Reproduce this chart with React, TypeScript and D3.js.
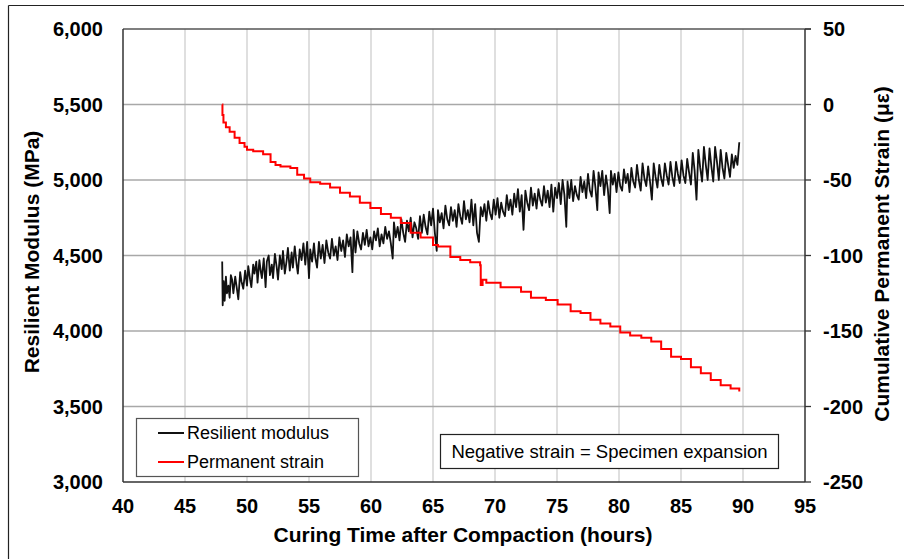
import React from "react";
import * as d3 from "d3";

const xTicks = [40, 45, 50, 55, 60, 65, 70, 75, 80, 85, 90, 95];
const leftTicks = [3000, 3500, 4000, 4500, 5000, 5500, 6000];
const rightTicks = [-250, -200, -150, -100, -50, 0, 50];

// Resilient modulus (MPa) vs curing time (hours)
const modulus: [number, number][] = [
  [48.0, 4460], [48.04, 4170], [48.12, 4330], [48.2, 4200], [48.3, 4360], [48.38, 4250],
  [48.5, 4300], [48.6, 4220], [48.7, 4370], [48.8, 4340], [48.9, 4250], [49.05, 4360],
  [49.15, 4300], [49.3, 4210], [49.45, 4390], [49.55, 4330], [49.7, 4280], [49.85, 4400],
  [50.0, 4300], [50.1, 4430], [50.25, 4340], [50.35, 4290], [50.5, 4440], [50.6, 4380],
  [50.75, 4460], [50.85, 4320], [51.0, 4470], [51.1, 4400], [51.2, 4350], [51.35, 4480],
  [51.5, 4290], [51.6, 4460], [51.75, 4500], [51.85, 4370], [52.0, 4440], [52.1, 4350],
  [52.25, 4510], [52.4, 4420], [52.5, 4340], [52.65, 4500], [52.8, 4410], [52.9, 4530],
  [53.05, 4380], [53.2, 4470], [53.3, 4550], [53.45, 4400], [53.6, 4520], [53.7, 4420],
  [53.85, 4560], [54.0, 4440], [54.1, 4380], [54.25, 4540], [54.4, 4470], [54.55, 4580],
  [54.7, 4440], [54.85, 4590], [55.0, 4350], [55.1, 4540], [55.25, 4460], [55.4, 4580],
  [55.5, 4490], [55.65, 4420], [55.8, 4590], [55.95, 4480], [56.1, 4570], [56.25, 4450],
  [56.4, 4600], [56.55, 4520], [56.7, 4480], [56.85, 4610], [57.0, 4500], [57.15, 4560],
  [57.3, 4470], [57.45, 4620], [57.6, 4530], [57.75, 4600], [57.9, 4490], [58.05, 4640],
  [58.2, 4560], [58.35, 4620], [58.5, 4390], [58.6, 4670], [58.75, 4520], [58.9, 4660],
  [59.05, 4580], [59.2, 4540], [59.35, 4650], [59.5, 4570], [59.65, 4670], [59.8, 4560],
  [59.95, 4620], [60.1, 4540], [60.25, 4660], [60.4, 4600], [60.55, 4680], [60.7, 4560],
  [60.85, 4640], [61.0, 4580], [61.15, 4690], [61.3, 4610], [61.45, 4660], [61.6, 4580],
  [61.75, 4480], [61.85, 4720], [62.0, 4620], [62.15, 4690], [62.3, 4600], [62.45, 4740],
  [62.6, 4650], [62.75, 4590], [62.9, 4730], [63.05, 4660], [63.2, 4750], [63.35, 4620],
  [63.5, 4720], [63.65, 4680], [63.8, 4610], [63.95, 4760], [64.1, 4650], [64.25, 4770],
  [64.4, 4690], [64.55, 4640], [64.7, 4790], [64.85, 4700], [65.0, 4810], [65.15, 4650],
  [65.3, 4530], [65.4, 4800], [65.55, 4720], [65.7, 4780], [65.85, 4680], [66.0, 4830],
  [66.15, 4740], [66.3, 4700], [66.45, 4820], [66.6, 4730], [66.75, 4800], [66.9, 4690],
  [67.05, 4840], [67.2, 4760], [67.35, 4710], [67.5, 4860], [67.65, 4740], [67.8, 4800],
  [67.95, 4720], [68.1, 4870], [68.25, 4700], [68.4, 4840], [68.55, 4650], [68.7, 4590],
  [68.85, 4820], [69.0, 4760], [69.15, 4840], [69.3, 4730], [69.45, 4860], [69.6, 4780],
  [69.75, 4740], [69.9, 4870], [70.05, 4770], [70.2, 4880], [70.35, 4750], [70.5, 4850],
  [70.65, 4790], [70.8, 4760], [70.95, 4900], [71.1, 4800], [71.25, 4870], [71.4, 4770],
  [71.55, 4910], [71.7, 4820], [71.85, 4940], [72.0, 4790], [72.15, 4900], [72.3, 4670],
  [72.45, 4930], [72.6, 4850], [72.75, 4800], [72.9, 4950], [73.05, 4830], [73.2, 4910],
  [73.35, 4810], [73.5, 4940], [73.65, 4870], [73.8, 4830], [73.95, 4960], [74.1, 4850],
  [74.25, 4930], [74.4, 4820], [74.55, 4970], [74.7, 4790], [74.85, 4950], [75.0, 4880],
  [75.15, 4980], [75.3, 4840], [75.45, 5000], [75.6, 4900], [75.75, 4690], [75.85, 4990],
  [76.0, 4880], [76.15, 5000], [76.3, 4860], [76.45, 4960], [76.6, 4900], [76.75, 4870],
  [76.9, 5020], [77.05, 4920], [77.2, 4990], [77.35, 4880], [77.5, 5040], [77.65, 4930],
  [77.8, 4890], [77.95, 5060], [78.1, 4950], [78.25, 4800], [78.35, 5050], [78.5, 4960],
  [78.65, 5060], [78.8, 4900], [78.95, 5030], [79.1, 4940], [79.25, 4780], [79.35, 5060],
  [79.5, 4970], [79.65, 5040], [79.8, 4920], [79.95, 5050], [80.1, 4960], [80.25, 4930],
  [80.4, 5070], [80.55, 4980], [80.7, 5040], [80.85, 4920], [81.0, 5080], [81.15, 4990],
  [81.3, 4950], [81.45, 5100], [81.6, 5000], [81.75, 4930], [81.9, 5110], [82.05, 5010],
  [82.2, 4960], [82.35, 5090], [82.5, 4990], [82.65, 4870], [82.8, 5110], [82.95, 5020],
  [83.1, 4950], [83.25, 5100], [83.4, 5010], [83.55, 4960], [83.7, 5110], [83.85, 5030],
  [84.0, 4970], [84.15, 5120], [84.3, 5020], [84.45, 4960], [84.6, 5120], [84.75, 5040],
  [84.9, 4980], [85.05, 5130], [85.2, 5030], [85.35, 4980], [85.5, 5140], [85.65, 5050],
  [85.8, 4970], [85.95, 5180], [86.1, 5060], [86.25, 4870], [86.4, 5200], [86.55, 5080],
  [86.7, 4990], [86.85, 5220], [87.0, 5100], [87.15, 5000], [87.3, 5210], [87.45, 5090],
  [87.6, 4990], [87.75, 5220], [87.9, 5120], [88.05, 5000], [88.2, 5200], [88.35, 5080],
  [88.5, 5010], [88.65, 5180], [88.8, 5100], [88.95, 5020], [89.1, 5170], [89.25, 5080],
  [89.4, 5160], [89.55, 5100], [89.7, 5250],
];

// Cumulative permanent strain (microstrain) vs curing time (hours)
const strain: [number, number][] = [
  [48.0, 0], [48.02, -7], [48.1, -12], [48.3, -15], [48.6, -18], [49.0, -22], [49.4, -25.5],
  [49.8, -28], [50.0, -30], [50.5, -31], [51.1, -31], [51.3, -33], [51.9, -38], [52.3, -40],
  [52.7, -41], [53.5, -42], [54.05, -46.5], [54.6, -49], [55.1, -51.5], [55.9, -52.5],
  [56.7, -55], [57.5, -58.5], [58.3, -61], [59.1, -65], [59.95, -68.5], [60.8, -72.5],
  [61.6, -75], [62.4, -78.5], [63.2, -85], [64.0, -88], [65.0, -93], [65.4, -94],
  [66.4, -101], [67.2, -103], [68.0, -104.5], [68.8, -106.5], [68.85, -119.5], [69.0, -116],
  [69.3, -118], [70.45, -121], [71.5, -121], [72.1, -124], [72.9, -128], [74.1, -129.5],
  [75.05, -132.5], [76.1, -137], [76.9, -138], [77.7, -142.5], [78.5, -145], [79.3, -147],
  [80.1, -151], [80.9, -153], [81.8, -154.5], [82.6, -157], [83.4, -162], [84.2, -167],
  [85.0, -168.5], [85.8, -174], [86.6, -178], [87.4, -182.5], [88.2, -186], [89.0, -188],
  [89.7, -190],
];

const FONT = "'Liberation Sans', Arial, sans-serif";

export default function App() {
  const L = 123, R = 805, T = 29, B = 482;
  const x = d3.scaleLinear().domain([40, 95]).range([L, R]);
  const yL = d3.scaleLinear().domain([3000, 6000]).range([B, T]);
  const yR = d3.scaleLinear().domain([-250, 50]).range([B, T]);

  const modLine = d3.line<[number, number]>().x(d => x(d[0])).y(d => yL(d[1]))(modulus) || "";
  const strLine = d3
    .line<[number, number]>()
    .x(d => x(d[0]))
    .y(d => yR(d[1]))
    .curve(d3.curveStepAfter)(strain) || "";

  return (
    <svg
      width={904}
      height={559}
      style={{ position: "absolute", left: 0, top: 0, background: "#fff" }}
      fontFamily={FONT}
    >
      <rect x={0} y={0} width={904} height={559} fill="#fff" />
      {/* outer border */}
      <line x1={8.5} y1={5.5} x2={8.5} y2={559} stroke="#222" strokeWidth={1.2} />
      <line x1={8.5} y1={5.5} x2={904} y2={5.5} stroke="#222" strokeWidth={1.2} />

      {/* vertical gridlines */}
      {xTicks.slice(1, -1).map(t => (
        <line key={"vx" + t} x1={x(t)} x2={x(t)} y1={T} y2={B} stroke="#d4d4d4" strokeWidth={1.5} />
      ))}
      {/* horizontal gridlines */}
      {leftTicks.slice(1, -1).map(t => (
        <line key={"hy" + t} x1={L} x2={R} y1={yL(t)} y2={yL(t)} stroke="#a8a8a8" strokeWidth={1.3} />
      ))}
      <line x1={L} x2={R + 6} y1={T} y2={T} stroke="#555" strokeWidth={1.3} />

      {/* data */}
      <path d={modLine} fill="none" stroke="#111" strokeWidth={1.8} strokeLinejoin="round" />
      <path d={strLine} fill="none" stroke="#ff0000" strokeWidth={2} />

      {/* axes */}
      <line x1={L} x2={L} y1={T} y2={B} stroke="#333" strokeWidth={1.5} />
      <line x1={L} x2={R} y1={B} y2={B} stroke="#333" strokeWidth={1.5} />
      <line x1={R} x2={R} y1={T} y2={B} stroke="#333" strokeWidth={1.5} />
      {rightTicks.map(t => (
        <line key={"rt" + t} x1={R} x2={R + 6} y1={yR(t)} y2={yR(t)} stroke="#333" strokeWidth={1.3} />
      ))}

      {/* tick labels */}
      {leftTicks.map(t => (
        <text key={"lt" + t} x={103} y={yL(t) + 7} textAnchor="end" fontSize={20} fontWeight="bold" fill="#000">
          {d3.format(",")(t)}
        </text>
      ))}
      {rightTicks.map(t => (
        <text key={"rl" + t} x={823} y={yR(t) + 7} textAnchor="start" fontSize={20} fontWeight="bold" fill="#000">
          {t}
        </text>
      ))}
      {xTicks.map(t => (
        <text key={"xl" + t} x={x(t)} y={513} textAnchor="middle" fontSize={20} fontWeight="bold" fill="#000">
          {t}
        </text>
      ))}

      {/* axis titles */}
      <text x={463} y={542} textAnchor="middle" fontSize={21} fontWeight="bold" fill="#000">
        Curing Time after Compaction (hours)
      </text>
      <text transform="translate(39,252) rotate(-90)" textAnchor="middle" fontSize={21} fontWeight="bold" fill="#000">
        Resilient Modulus (MPa)
      </text>
      <text transform="translate(889,254) rotate(-90)" textAnchor="middle" fontSize={21} fontWeight="bold" fill="#000">
        Cumulative Permanent Strain (με)
      </text>

      {/* legend */}
      <rect x={136.5} y={418.5} width={222} height={58} fill="#fff" stroke="#555" strokeWidth={1.2} />
      <line x1={158} x2={184} y1={433} y2={433} stroke="#111" strokeWidth={2} />
      <text x={187} y={439} fontSize={18} fill="#000">Resilient modulus</text>
      <line x1={158} x2={184} y1={462} y2={462} stroke="#ff0000" strokeWidth={2} />
      <text x={187} y={468} fontSize={18} fill="#000">Permanent strain</text>

      {/* annotation */}
      <rect x={440.5} y={434.5} width={338} height={34} fill="#fff" stroke="#222" strokeWidth={1.2} />
      <text x={609.5} y={457.5} textAnchor="middle" fontSize={18.5} fill="#000">
        Negative strain = Specimen expansion
      </text>
    </svg>
  );
}
